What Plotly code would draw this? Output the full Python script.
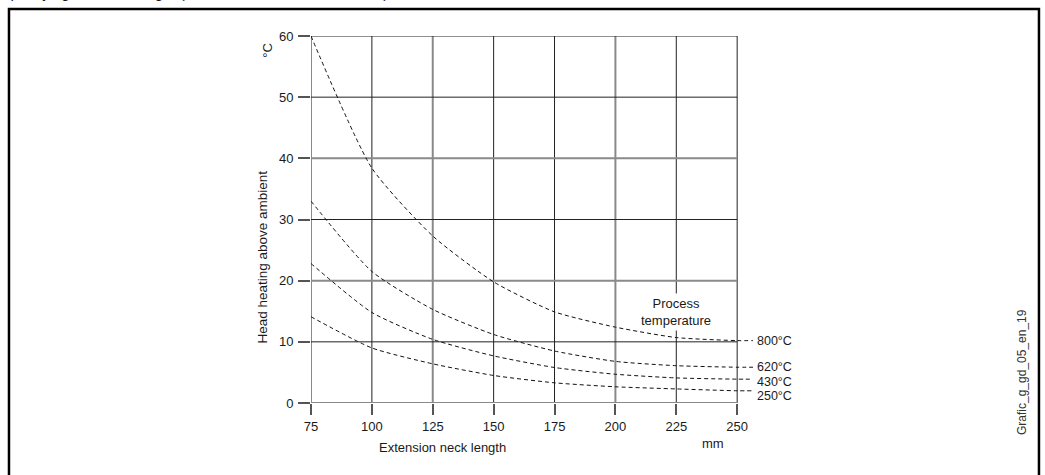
import plotly.graph_objects as go

# ---- data ----
neck_mm = [75, 100, 125, 150, 175, 200, 225, 250]
heat_800 = [60.0, 38.4, 27.3, 19.8, 14.9, 12.4, 10.7, 10.2]
heat_620 = [33.0, 21.5, 15.3, 11.2, 8.5, 6.8, 6.1, 5.85]
heat_430 = [22.8, 14.8, 10.4, 7.7, 5.8, 4.7, 4.1, 3.9]
heat_250 = [14.1, 9.0, 6.4, 4.5, 3.3, 2.65, 2.3, 2.0]
series_names = ["800°C", "620°C", "430°C", "250°C"]
series_vals = [heat_800, heat_620, heat_430, heat_250]
label_yshift = [0, 0, -3, -5]  # px nudges so the stacked labels don't collide
x_ticks = [75, 100, 125, 150, 175, 200, 225, 250]
y_ticks = [0, 10, 20, 30, 40, 50, 60]
label_end = 256.5  # dashed lead-out to the labels

FONT = "Liberation Sans, Arial, Helvetica, sans-serif"
TXT = "#1a1a1a"

fig = go.Figure()

# grid lines (mix of grey/black like the scanned original)
vgrid_style = {75: "g", 100: "k", 125: "g", 150: "k", 175: "k", 200: "g", 225: "k", 250: "k"}
hgrid_style = {0: "g", 10: "k", 20: "g", 30: "k", 40: "g", 50: "k", 60: "k"}
sty = {"g": dict(color="#8a8a8a", width=2), "k": dict(color="#222222", width=1)}
for xv in x_ticks:
    fig.add_shape(type="line", xref="x", yref="y", x0=xv, x1=xv, y0=0, y1=60,
                  line=sty[vgrid_style[xv]], layer="below")
for yv in y_ticks:
    fig.add_shape(type="line", xref="x", yref="y", x0=75, x1=250, y0=yv, y1=yv,
                  line=sty[hgrid_style[yv]], layer="below")

for name, vals, ys_px in zip(series_names, series_vals, label_yshift):
    xs = neck_mm + [label_end]
    ys = vals + [vals[-1]]
    fig.add_trace(go.Scatter(x=xs, y=ys, mode="lines", name=name,
                             line=dict(color="#111111", width=1, dash="4px,3px",
                                       shape="spline", smoothing=0.6),
                             showlegend=False, hoverinfo="skip"))
    fig.add_annotation(x=label_end, y=vals[-1], xref="x", yref="y", text=name,
                       showarrow=False, xanchor="left", yanchor="middle", xshift=2, yshift=ys_px,
                       font=dict(family=FONT, size=12.5, color=TXT))

fig.add_annotation(x=225, y=14.9, xref="x", yref="y", text="Process<br>temperature",
                   showarrow=False, bgcolor="white", font=dict(family=FONT, size=13, color=TXT),
                   xanchor="center", yanchor="middle", borderpad=2)

def note(x, y, text, size=13, angle=0, color=TXT, xa="center", ya="middle"):
    fig.add_annotation(x=x, y=y, xref="paper", yref="paper", text=text, textangle=angle,
                       xanchor=xa, yanchor=ya, showarrow=False,
                       font=dict(family=FONT, size=size, color=color))

# axis titles and other texts
note(-0.0977, 0.9619, "°C", angle=-90)
note(-0.1086, 0.399, "Head heating above ambient", size=13.5, angle=-90)
note(0.2986, -0.1226, "Extension neck length")
note(0.9095, -0.1117, "mm")
note(1.6086, 0.0845, "Grafic_g_gd_05_en_19", size=12, angle=-90, color="#333")
note(-0.7014, 1.0899, "specifying the neck length (see: Sales bulletins for details)",
     size=15, xa="left", ya="bottom")

# outer frame
fig.add_shape(type="rect", xref="paper", yref="paper", x0=-0.6833, x1=1.647, y0=-0.3, y1=1.0736,
              line=dict(color="black", width=2.5), fillcolor="rgba(0,0,0,0)")

fig.update_xaxes(range=[75, label_end], tickvals=x_ticks, showgrid=False, zeroline=False,
                 showline=False, ticks="outside", ticklen=11, tickcolor="#555", tickwidth=1.5,
                 tickfont=dict(family=FONT, size=13, color=TXT))
fig.update_yaxes(range=[0, 60], tickvals=y_ticks, showgrid=False, zeroline=False,
                 showline=False, ticks="outside", ticklen=12, tickcolor="#555", tickwidth=1.5,
                 ticklabelstandoff=2, tickfont=dict(family=FONT, size=13, color=TXT))

fig.update_layout(width=1045, height=475, autosize=False,
                  margin=dict(l=311, r=292, t=36, b=72),
                  plot_bgcolor="white", paper_bgcolor="white")

fig.write_html("out.html", config={"displayModeBar": False},
               post_script="document.body.style.margin='0';")
